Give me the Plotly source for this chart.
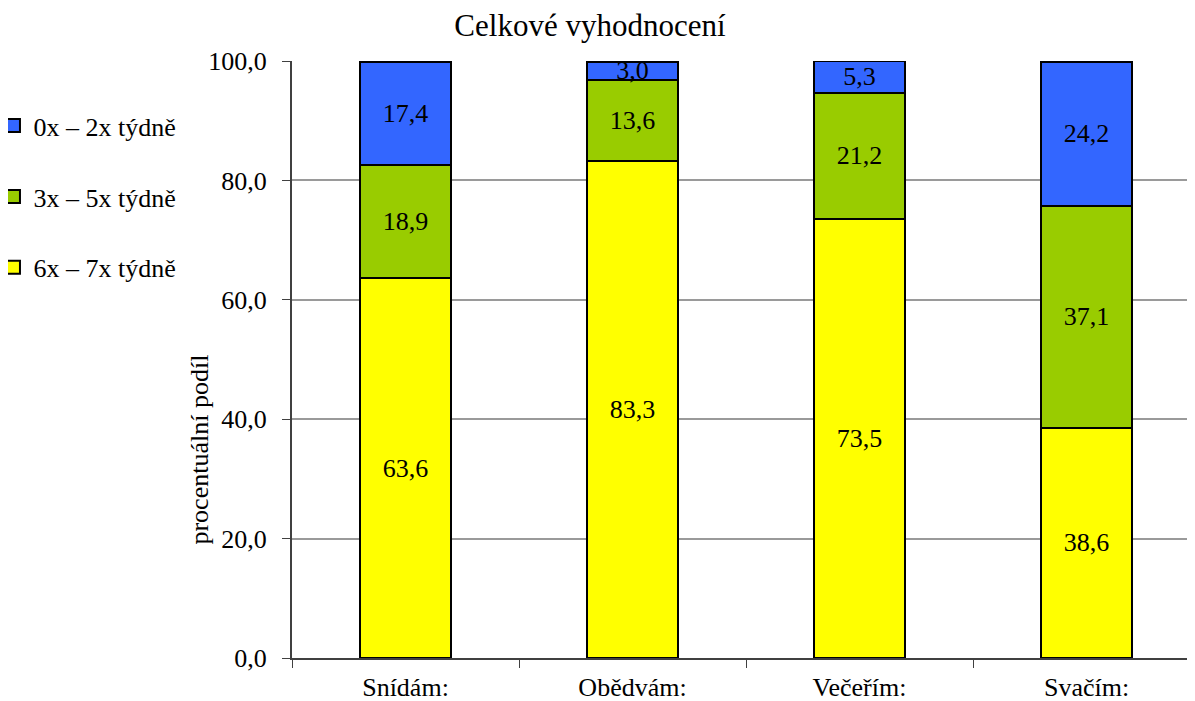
import plotly.graph_objects as go

categories = ["Snídám:", "Obědvám:", "Večeřím:", "Svačím:"]
series_names = ["6x – 7x týdně", "3x – 5x týdně", "0x – 2x týdně"]
val_67 = [63.6, 83.3, 73.5, 38.6]
val_35 = [18.9, 13.6, 21.2, 37.1]
val_02 = [17.4, 3.0, 5.3, 24.2]
colors = ["#FFFF00", "#99CC00", "#3366FF"]
legend_ranks = [3, 2, 1]
y_ticks = [0, 20, 40, 60, 80, 100]

FONT = "Liberation Serif"

fig = go.Figure()
for name, vals, col in zip(series_names, [val_67, val_35, val_02], colors):
    fig.add_trace(go.Bar(
        x=categories, y=vals, name=name, legendgroup=name, showlegend=False,
        marker=dict(color=col, line=dict(color="black", width=2)),
        width=0.4,
        text=[f"{v:.1f}".replace(".", ",") for v in vals],
        textposition="inside", insidetextanchor="middle",
        textfont=dict(family=FONT, size=26, color="black"),
        cliponaxis=False,
    ))
# legend entries (larger square swatches, like the original)
for name, col, rk in zip(series_names, colors, legend_ranks):
    fig.add_trace(go.Scatter(
        x=[None], y=[None], mode="markers", name=name, legendgroup=name,
        legendrank=rk, showlegend=True, hoverinfo="skip",
        marker=dict(symbol="square", size=13, color=col,
                    line=dict(color="black", width=2)),
    ))

fig.update_layout(
    width=1195, height=701,
    barmode="stack",
    plot_bgcolor="white", paper_bgcolor="white",
    separators=", ",
    font=dict(family=FONT, size=26, color="black"),
    margin=dict(l=284, r=0, t=53, b=51, pad=0, autoexpand=False),
    uniformtext=dict(minsize=26, mode="show"),
    title=dict(text="Celkové vyhodnocení", x=0.487, xanchor="center",
               y=0.975, yanchor="middle", yref="container",
               font=dict(family=FONT, size=31, color="black")),
    legend=dict(x=-0.3277, xanchor="left", y=0.931, yanchor="top",
                traceorder="grouped", tracegroupgap=34,
                font=dict(family=FONT, size=26, color="black"),
                bgcolor="rgba(0,0,0,0)"),
    showlegend=True,
)
fig.update_xaxes(
    range=[-0.5, 3.513], tickson="boundaries", ticks="outside", ticklen=8,
    tickcolor="#404040", showline=True, linecolor="#404040", linewidth=2,
    showgrid=False, tickfont=dict(family=FONT, size=26, color="black"),
    automargin=False, ticklabelstandoff=5, categoryorder="array",
    categoryarray=categories,
)
fig.update_yaxes(
    range=[0, 100], tickvals=y_ticks, tickformat=".1f", ticks="outside",
    ticklen=8, tickcolor="#404040", showline=True, linecolor="#404040",
    linewidth=2, showgrid=True, gridcolor="#9a9a9a", gridwidth=2,
    tickfont=dict(family=FONT, size=26, color="black"), zeroline=False,
    ticklabelstandoff=10, automargin=False,
)
fig.add_annotation(text="procentuální podíl", xref="paper", yref="paper",
                   x=-0.1207, y=0.3484, textangle=-90, showarrow=False,
                   font=dict(family=FONT, size=26, color="black"))

fig.write_html("out.html")
